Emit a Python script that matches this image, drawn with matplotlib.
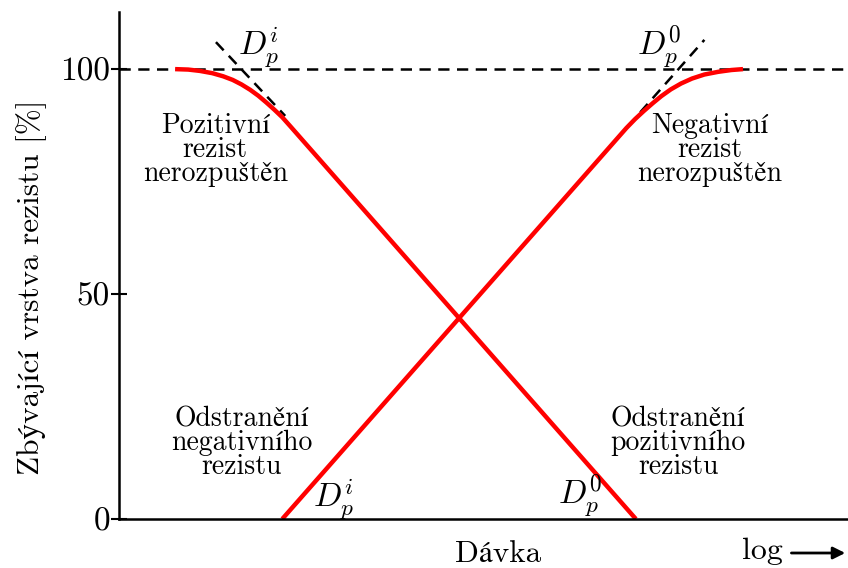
import numpy as np
import matplotlib
matplotlib.use("Agg")
import matplotlib.pyplot as plt

# log dose (arbitrary units) vs remaining resist thickness [%]
pos_dose = [0.77, 0.95, 1.11, 1.28, 1.43, 1.56, 1.68, 1.80, 1.91, 2.02, 2.13, 2.24, 2.35, 7.09]
pos_thick = [100.0, 99.9, 99.6, 99.1, 98.4, 97.6, 96.6, 95.4, 94.1, 92.6, 91.0, 89.3, 87.3, 0.0]

neg_dose = [2.24, 6.96, 7.08, 7.20, 7.32, 7.44, 7.57, 7.71, 7.86, 8.03, 8.22, 8.40, 8.56]
neg_thick = [0.0, 86.9, 88.9, 90.7, 92.4, 94.0, 95.5, 96.8, 97.9, 98.8, 99.4, 99.8, 100.0]

# extrapolated linear parts near the top
pos_tan_dose = [1.33, 2.28]
pos_tan_thick = [106.0, 89.6]
neg_tan_dose = [7.15, 8.03]
neg_tan_thick = [90.4, 106.5]

yticks = [0, 50, 100]

# cmr10 has no accented letters, STIX fills them in
plt.rcParams["font.family"] = ["cmr10", "STIXGeneral"]
plt.rcParams["mathtext.fontset"] = "cm"
plt.rcParams["axes.formatter.use_mathtext"] = True

fig = plt.figure(figsize=(8.48, 5.68), dpi=100)
ax = fig.add_axes([0.1403, 0.0863, 0.8597, 0.8926])

dash = (0, (4.5, 3))
ax.axhline(100, color="black", lw=1.8, ls=dash, zorder=1)
ax.plot(pos_tan_dose, pos_tan_thick, color="black", lw=1.8, ls=dash, zorder=1)
ax.plot(neg_tan_dose, neg_tan_thick, color="black", lw=1.8, ls=dash, zorder=1)

ax.plot(pos_dose, pos_thick, color="red", lw=3.2, solid_capstyle="butt", zorder=2)
ax.plot(neg_dose, neg_thick, color="red", lw=3.2, solid_capstyle="butt", zorder=2)

ax.set_xlim(0, 10)
ax.set_ylim(0, 112.7)
ax.set_xticks([])
ax.set_yticks(yticks)
ax.set_yticklabels([str(t) for t in yticks])
ax.tick_params(axis="y", direction="inout", length=11, width=1.5, labelsize=24, pad=1)
for side in ["top", "right"]:
    ax.spines[side].set_visible(False)
ax.spines["left"].set_linewidth(1.8)
ax.spines["bottom"].set_linewidth(1.8)

ax.set_ylabel("Zbývající vrstva rezistu [%]", fontsize=22.5)
ax.yaxis.set_label_coords(-0.099, 0.456)

txt = dict(ha="center", va="center", fontsize=20, linespacing=0.88)
ax.text(1.32, 82.0, "Pozitivní\nrezist\nnerozpuštěn", **txt)
ax.text(8.10, 82.0, "Negativní\nrezist\nnerozpuštěn", **txt)
ax.text(1.68, 16.9, "Odstranění\nnegativního\nrezistu", **txt)
ax.text(7.67, 16.9, "Odstranění\npozitivního\nrezistu", **txt)

ax.text(1.91, 104.9, r"$D_p^i$", ha="center", va="center", fontsize=24)
ax.text(7.41, 104.9, r"$D_p^0$", ha="center", va="center", fontsize=24)
ax.text(2.94, 4.4, r"$D_p^i$", ha="center", va="center", fontsize=24)
ax.text(6.32, 5.1, r"$D_p^0$", ha="center", va="center", fontsize=24)

fig.text(0.587, 0.024, "Dávka", ha="center", va="center", fontsize=22.5)
fig.text(0.899, 0.030, "log", ha="center", va="center", fontsize=23)
fig.patches.append(matplotlib.patches.FancyArrowPatch(
    (0.930, 0.0264), (1.0, 0.0264), transform=fig.transFigure,
    arrowstyle="-|>", mutation_scale=18, lw=2, color="black"))

fig.savefig("out.png", dpi=100)
